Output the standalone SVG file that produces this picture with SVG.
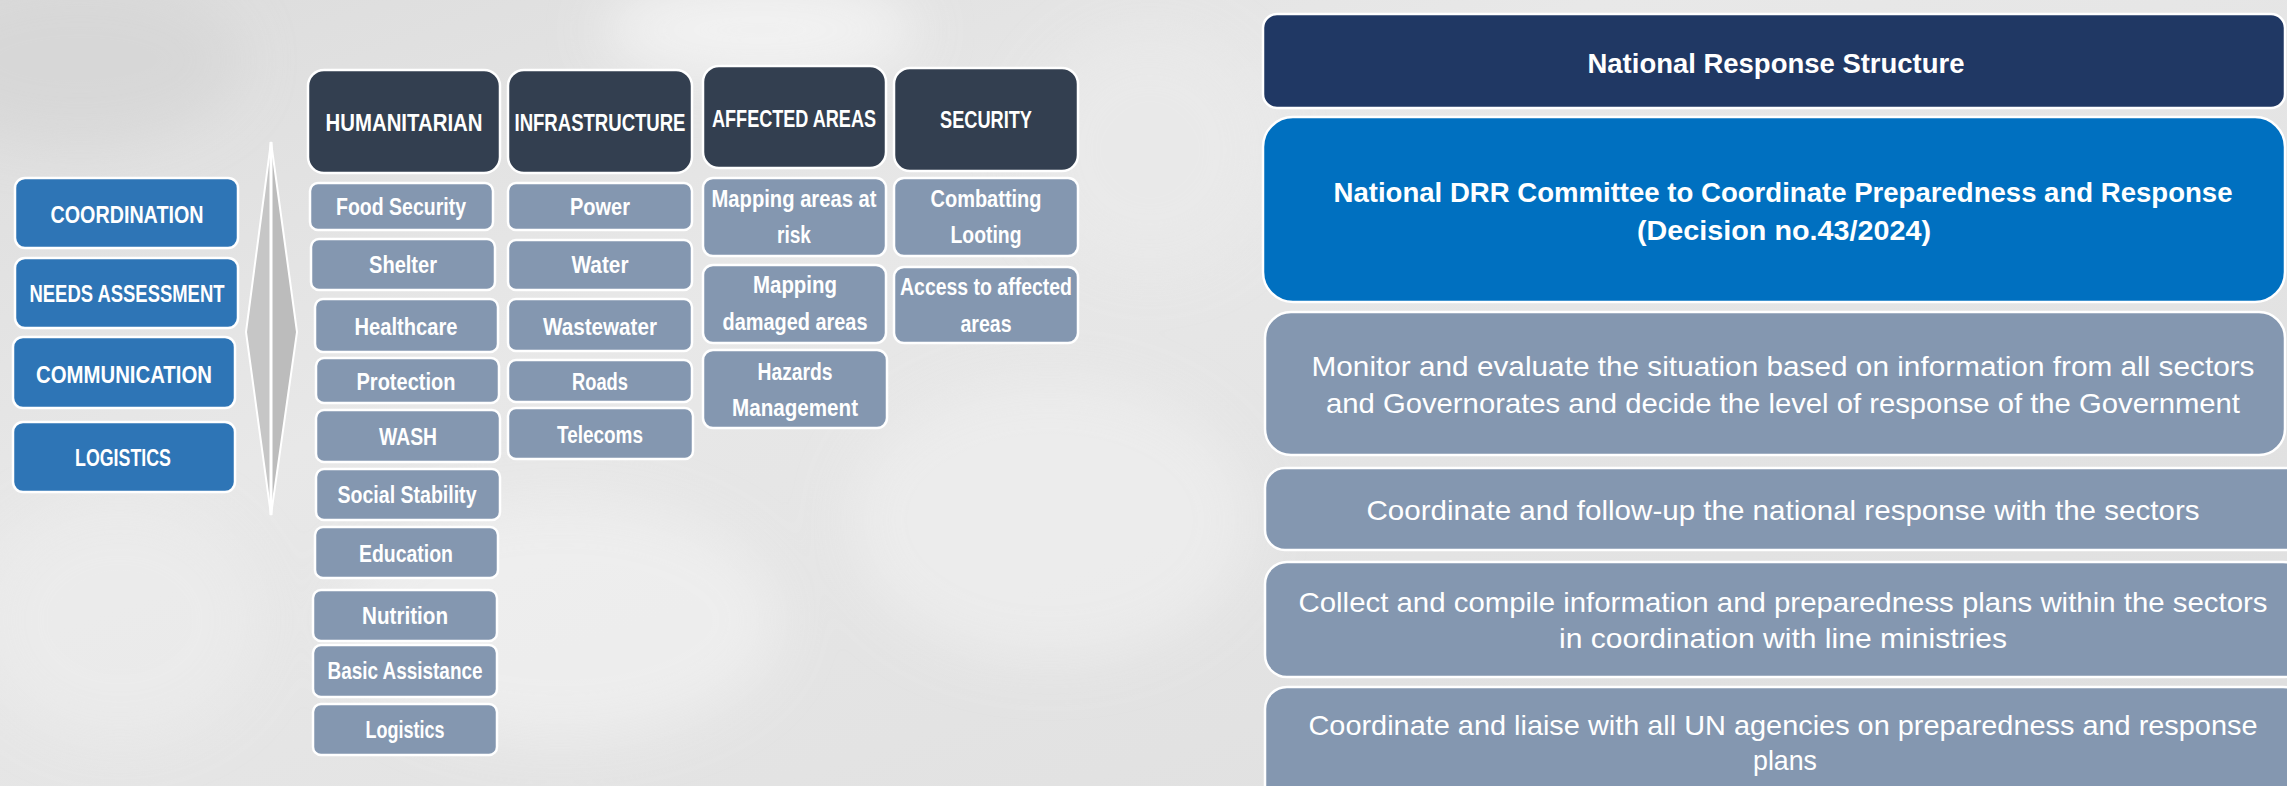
<svg xmlns="http://www.w3.org/2000/svg" width="2287" height="786" viewBox="0 0 2287 786">
<defs>
<linearGradient id="bg" x1="0" y1="0" x2="1" y2="1">
<stop offset="0" stop-color="#dcdcdc"/>
<stop offset="0.35" stop-color="#e8e8e8"/>
<stop offset="0.6" stop-color="#e4e4e4"/>
<stop offset="1" stop-color="#dedede"/>
</linearGradient>
<filter id="blur" x="-50%" y="-50%" width="200%" height="200%"><feGaussianBlur stdDeviation="28"/></filter>
<style>
.t{font-family:"Liberation Sans Narrow","Liberation Sans",Arial,sans-serif;fill:#ffffff;text-anchor:middle}
.b{font-weight:bold;font-size:23px}
.rb{font-weight:bold;font-size:28px}
.r{font-size:28px}
.box{stroke:#ffffff;stroke-width:2.5}
.blue{fill:#2e75b6}
.head{fill:#333f50}
.sub{fill:#8497b0}
.navy{fill:#203864}
.drr{fill:#0070c0}
</style>
</defs>
<rect x="0" y="0" width="2287" height="786" fill="url(#bg)"/>
<g filter="url(#blur)" opacity="0.8">
<ellipse cx="760" cy="30" rx="160" ry="50" fill="#f6f6f6"/>
<ellipse cx="560" cy="620" rx="220" ry="120" fill="#f0f0f0"/>
<ellipse cx="120" cy="620" rx="140" ry="120" fill="#ececec"/>
<ellipse cx="1050" cy="520" rx="200" ry="140" fill="#eeeeee"/>
<ellipse cx="80" cy="60" rx="160" ry="80" fill="#d6d6d6"/>
<ellipse cx="1150" cy="150" rx="120" ry="120" fill="#eaeaea"/>
</g>

<g id="arrow">
<polygon points="271,142 246,332 271,515" fill="#c6c6c6" stroke="#ffffff" stroke-width="2"/>
<polygon points="271,142 297,332 271,515" fill="#bcbcbc" stroke="#ffffff" stroke-width="2"/>
<line x1="271" y1="142" x2="271" y2="515" stroke="#ffffff" stroke-width="3"/>
</g>

<g id="coordination"><rect class="box blue" x="15" y="178" width="223" height="70" rx="10"/><text class="t b" x="127" y="223" textLength="153" lengthAdjust="spacingAndGlyphs">COORDINATION</text></g>
<g id="needs-assessment"><rect class="box blue" x="15" y="258" width="223" height="70" rx="10"/><text class="t b" x="127" y="302" textLength="195" lengthAdjust="spacingAndGlyphs">NEEDS ASSESSMENT</text></g>
<g id="communication"><rect class="box blue" x="13" y="337" width="222" height="71" rx="10"/><text class="t b" x="124" y="383" textLength="176" lengthAdjust="spacingAndGlyphs">COMMUNICATION</text></g>
<g id="logistics-main"><rect class="box blue" x="13" y="422" width="222" height="70" rx="10"/><text class="t b" x="123" y="466" textLength="96" lengthAdjust="spacingAndGlyphs">LOGISTICS</text></g>

<g id="humanitarian"><rect class="box head" x="308" y="70" width="192" height="103" rx="16"/><text class="t b" x="404" y="131" textLength="157" lengthAdjust="spacingAndGlyphs">HUMANITARIAN</text></g>
<g id="infrastructure"><rect class="box head" x="508" y="70" width="184" height="103" rx="16"/><text class="t b" x="600" y="131" textLength="171" lengthAdjust="spacingAndGlyphs">INFRASTRUCTURE</text></g>
<g id="affected-areas"><rect class="box head" x="703" y="66" width="183" height="102" rx="16"/><text class="t b" x="794" y="127" textLength="164" lengthAdjust="spacingAndGlyphs">AFFECTED AREAS</text></g>
<g id="security"><rect class="box head" x="894" y="68" width="184" height="103" rx="16"/><text class="t b" x="986" y="128" textLength="92" lengthAdjust="spacingAndGlyphs">SECURITY</text></g>

<g id="food-security"><rect class="box sub" x="310" y="183" width="183" height="47" rx="8"/><text class="t b" x="401" y="215" textLength="130" lengthAdjust="spacingAndGlyphs">Food Security</text></g>
<g id="shelter"><rect class="box sub" x="311" y="239" width="184" height="51" rx="8"/><text class="t b" x="403" y="273" textLength="68" lengthAdjust="spacingAndGlyphs">Shelter</text></g>
<g id="healthcare"><rect class="box sub" x="315" y="299" width="183" height="53" rx="8"/><text class="t b" x="406" y="335" textLength="103" lengthAdjust="spacingAndGlyphs">Healthcare</text></g>
<g id="protection"><rect class="box sub" x="316" y="358" width="183" height="45" rx="8"/><text class="t b" x="406" y="390" textLength="99" lengthAdjust="spacingAndGlyphs">Protection</text></g>
<g id="wash"><rect class="box sub" x="316" y="410" width="184" height="52" rx="8"/><text class="t b" x="408" y="445" textLength="58" lengthAdjust="spacingAndGlyphs">WASH</text></g>
<g id="social-stability"><rect class="box sub" x="316" y="469" width="184" height="51" rx="8"/><text class="t b" x="407" y="503" textLength="139" lengthAdjust="spacingAndGlyphs">Social Stability</text></g>
<g id="education"><rect class="box sub" x="315" y="527" width="183" height="51" rx="8"/><text class="t b" x="406" y="562" textLength="94" lengthAdjust="spacingAndGlyphs">Education</text></g>
<g id="nutrition"><rect class="box sub" x="313" y="590" width="184" height="51" rx="8"/><text class="t b" x="405" y="624" textLength="86" lengthAdjust="spacingAndGlyphs">Nutrition</text></g>
<g id="basic-assistance"><rect class="box sub" x="313" y="645" width="184" height="52" rx="8"/><text class="t b" x="405" y="679" textLength="155" lengthAdjust="spacingAndGlyphs">Basic Assistance</text></g>
<g id="logistics"><rect class="box sub" x="313" y="704" width="184" height="51" rx="8"/><text class="t b" x="405" y="738" textLength="79" lengthAdjust="spacingAndGlyphs">Logistics</text></g>

<g id="power"><rect class="box sub" x="508" y="183" width="184" height="47" rx="8"/><text class="t b" x="600" y="215" textLength="60" lengthAdjust="spacingAndGlyphs">Power</text></g>
<g id="water"><rect class="box sub" x="508" y="240" width="184" height="50" rx="8"/><text class="t b" x="600" y="273" textLength="57" lengthAdjust="spacingAndGlyphs">Water</text></g>
<g id="wastewater"><rect class="box sub" x="508" y="299" width="184" height="52" rx="8"/><text class="t b" x="600" y="335" textLength="114" lengthAdjust="spacingAndGlyphs">Wastewater</text></g>
<g id="roads"><rect class="box sub" x="508" y="360" width="184" height="42" rx="8"/><text class="t b" x="600" y="390" textLength="56" lengthAdjust="spacingAndGlyphs">Roads</text></g>
<g id="telecoms"><rect class="box sub" x="508" y="408" width="185" height="51" rx="8"/><text class="t b" x="600" y="443" textLength="86" lengthAdjust="spacingAndGlyphs">Telecoms</text></g>

<g id="mapping-risk"><rect class="box sub" x="703" y="178" width="183" height="78" rx="10"/><text class="t b" x="794" y="207" textLength="165" lengthAdjust="spacingAndGlyphs">Mapping areas at</text><text class="t b" x="794" y="243" textLength="34" lengthAdjust="spacingAndGlyphs">risk</text></g>
<g id="mapping-damaged"><rect class="box sub" x="703" y="265" width="183" height="78" rx="10"/><text class="t b" x="795" y="293" textLength="84" lengthAdjust="spacingAndGlyphs">Mapping</text><text class="t b" x="795" y="330" textLength="145" lengthAdjust="spacingAndGlyphs">damaged areas</text></g>
<g id="hazards"><rect class="box sub" x="703" y="350" width="184" height="78" rx="10"/><text class="t b" x="795" y="380" textLength="75" lengthAdjust="spacingAndGlyphs">Hazards</text><text class="t b" x="795" y="416" textLength="126" lengthAdjust="spacingAndGlyphs">Management</text></g>
<g id="combatting"><rect class="box sub" x="894" y="178" width="184" height="78" rx="10"/><text class="t b" x="986" y="207" textLength="111" lengthAdjust="spacingAndGlyphs">Combatting</text><text class="t b" x="986" y="243" textLength="71" lengthAdjust="spacingAndGlyphs">Looting</text></g>
<g id="access"><rect class="box sub" x="894" y="267" width="184" height="76" rx="10"/><text class="t b" x="986" y="295" textLength="172" lengthAdjust="spacingAndGlyphs">Access to affected</text><text class="t b" x="986" y="332" textLength="51" lengthAdjust="spacingAndGlyphs">areas</text></g>

<g id="national-response-structure"><rect class="box navy" x="1263" y="14" width="1022" height="94" rx="14"/><text class="t rb" x="1776" y="73" textLength="377" lengthAdjust="spacingAndGlyphs">National Response Structure</text></g>
<g id="drr-committee"><rect class="box drr" x="1263" y="117" width="1022" height="185" rx="30"/><text class="t rb" x="1783" y="202" textLength="899" lengthAdjust="spacingAndGlyphs">National DRR Committee to Coordinate Preparedness and Response</text><text class="t rb" x="1784" y="240" textLength="294" lengthAdjust="spacingAndGlyphs">(Decision no.43/2024)</text></g>
<g id="monitor"><rect class="box sub" x="1265" y="312" width="1020" height="143" rx="26"/><text class="t r" x="1783" y="376" textLength="943" lengthAdjust="spacingAndGlyphs">Monitor and evaluate the situation based on information from all sectors</text><text class="t r" x="1783" y="413" textLength="914" lengthAdjust="spacingAndGlyphs">and Governorates and decide the level of response of the Government</text></g>
<g id="follow-up"><rect class="box sub" x="1265" y="468" width="1040" height="82" rx="20"/><text class="t r" x="1783" y="520" textLength="833" lengthAdjust="spacingAndGlyphs">Coordinate and follow-up the national response with the sectors</text></g>
<g id="collect"><rect class="box sub" x="1265" y="562" width="1040" height="115" rx="22"/><text class="t r" x="1783" y="612" textLength="969" lengthAdjust="spacingAndGlyphs">Collect and compile information and preparedness plans within the sectors</text><text class="t r" x="1783" y="648" textLength="448" lengthAdjust="spacingAndGlyphs">in coordination with line ministries</text></g>
<g id="liaise"><rect class="box sub" x="1265" y="687" width="1040" height="130" rx="22"/><text class="t r" x="1783" y="735" textLength="949" lengthAdjust="spacingAndGlyphs">Coordinate and liaise with all UN agencies on preparedness and response</text><text class="t r" x="1785" y="770" textLength="64" lengthAdjust="spacingAndGlyphs">plans</text></g>

<g id="connectors"></g>
</svg>
